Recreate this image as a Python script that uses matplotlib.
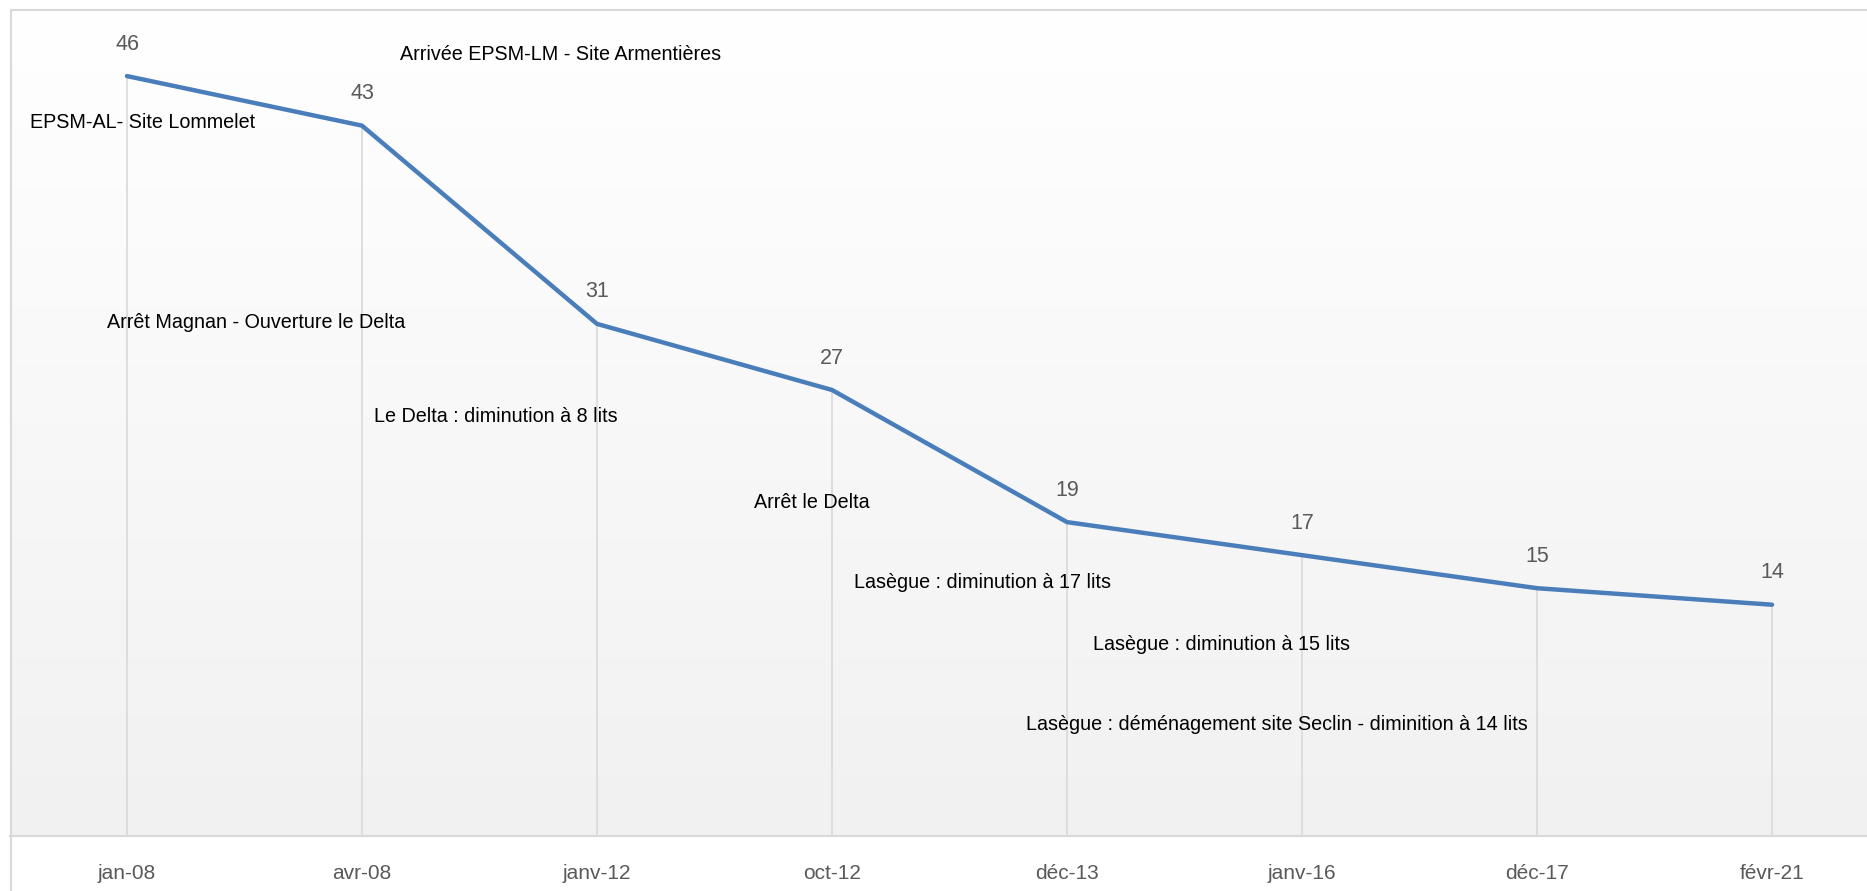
import matplotlib
matplotlib.use("Agg")
import matplotlib.pyplot as plt
import numpy as np
from matplotlib.lines import Line2D

plt.rcParams['font.family'] = ['Liberation Sans', 'DejaVu Sans']

categories = ["jan-08", "avr-08", "janv-12", "oct-12", "déc-13", "janv-16", "déc-17", "févr-21"]
values = [46, 43, 31, 27, 19, 17, 15, 14]

notes = [
    "Arrivée EPSM-LM - Site Armentières",
    "EPSM-AL- Site Lommelet",
    "Arrêt Magnan - Ouverture le Delta",
    "Le Delta : diminution à 8 lits",
    "Arrêt le Delta",
    "Lasègue : diminution à 17 lits",
    "Lasègue : diminution à 15 lits",
    "Lasègue : déménagement site Seclin - diminition à 14 lits",
]
# note anchor positions in pixels (left, centre) of the 1867x891 canvas
note_px = [(400, 55), (30, 123), (107, 323), (374, 417), (754, 502),
           (854, 583), (1093, 645), (1026, 725)]

W, H = 1867, 891
fig = plt.figure(figsize=(W / 100, H / 100), dpi=100)
fig.patch.set_facecolor("white")

left_px, top_px, bottom_px = 9.5, 10, 836
step = 235
ax = fig.add_axes([left_px / W, (H - bottom_px) / H, 8 * step / W, (bottom_px - top_px) / H])

# gradient background (white at top, light grey at bottom)
grad = np.linspace(0, 1, 256).reshape(-1, 1)
cmap = matplotlib.colors.LinearSegmentedColormap.from_list("g", ["#ffffff", "#f1f1f1"])
ax.imshow(grad, aspect="auto", cmap=cmap, extent=[-0.5, 7.5, 0, 50], origin="upper", zorder=0)
ax.set_xlim(-0.5, 7.5)
ax.set_ylim(0, 50)

x = np.arange(len(values))
# drop lines
ax.vlines(x, 0, values, colors="#d9d9d9", lw=1.2, zorder=1)
ax.plot(x, values, color="#4a7ebb", lw=3.2, solid_capstyle="round", solid_joinstyle="round", zorder=3)

for xi, v in zip(x, values):
    ax.annotate(str(v), (xi, v), xytext=(0, 23), textcoords="offset points",
                ha="center", va="center", fontsize=15.5, color="#595959")

for txt, (px, py) in zip(notes, note_px):
    fig.text(px / W, 1 - py / H, txt, ha="left", va="center", fontsize=14.2, color="black")

ax.set_xticks(x)
ax.set_xticklabels(categories, fontsize=15, color="#595959")
ax.tick_params(axis="x", length=0, pad=20)
ax.set_yticks([])
for s in ["top", "right", "left"]:
    ax.spines[s].set_visible(False)
ax.spines["bottom"].set_color("#d9d9d9")
ax.spines["bottom"].set_linewidth(1.5)

# chart border
fig.add_artist(Line2D([11 / W, 1], [1 - 10 / H, 1 - 10 / H], color="#d9d9d9", lw=1.5, transform=fig.transFigure))
fig.add_artist(Line2D([11 / W, 11 / W], [0, 1 - 10 / H], color="#d9d9d9", lw=1.5, transform=fig.transFigure))

fig.savefig("out.png", dpi=100)
